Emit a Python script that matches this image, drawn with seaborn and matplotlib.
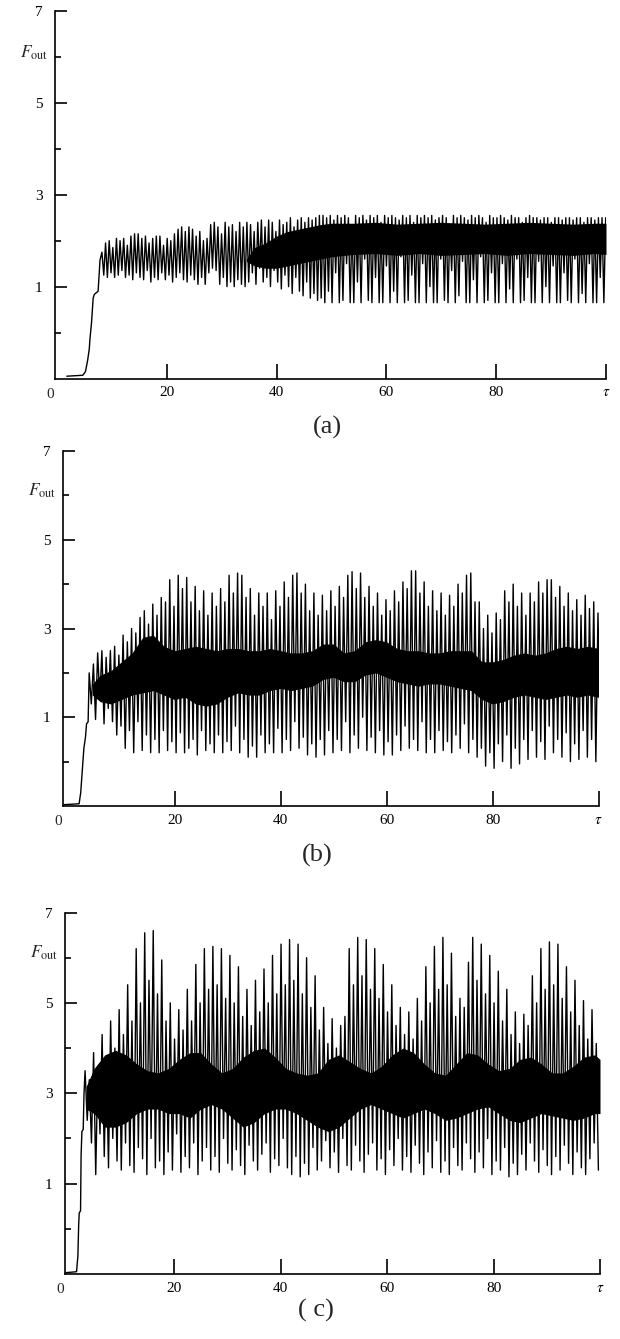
import numpy as np
import pandas as pd
import matplotlib
matplotlib.use("Agg")
import matplotlib.pyplot as plt
import seaborn as sns

sns.set_theme(style="ticks")
plt.rcParams["font.family"] = ["Liberation Serif", "DejaVu Serif"]
plt.rcParams["mathtext.fontset"] = "stix"

# ---------------- data ----------------
y_major = [1, 3, 5, 7]
y_minor = [0, 2, 4, 6]
x_ticks = [20, 40, 60, 80, 100]
x_labels = ["20", "40", "60", "80", r"$\tau$"]
captions = ["(a)", "(b)", "( c)"]

# ----- panel (a) -----
ramp_tau_a = [1.8, 4.7, 5.2, 5.6, 5.9, 6.0, 6.3, 6.6, 6.8, 7.5, 7.85]
ramp_f_a = [-0.95, -0.93, -0.85, -0.6, -0.35, -0.16, 0.21, 0.75, 0.83, 0.9, 1.58]
osc_t0_a, osc_dt_a = 8.2, 0.66
peak_a = [1.75, 1.95, 2.0, 1.85, 2.05, 2.0, 2.05, 1.9, 2.1, 2.15,
          2.15, 2.05, 2.1, 1.95, 2.05, 2.1, 2.1, 1.9, 2.05, 2.0,
          2.15, 2.25, 2.3, 2.2, 2.3, 2.25, 2.1, 2.2, 2.0, 2.05,
          2.35, 2.4, 2.3, 2.15, 2.4, 2.3, 2.35, 2.2, 2.4, 2.3,
          2.4,
          2.35, 2.2, 2.4, 2.45, 2.3, 2.45, 2.4, 2.2, 2.45, 2.35,
          2.4, 2.5, 2.3, 2.45, 2.5, 2.4, 2.5, 2.45, 2.5, 2.55,
          2.55, 2.5, 2.55, 2.45, 2.55, 2.5, 2.55, 2.5, 2.35, 2.55,
          2.5, 2.55, 2.45, 2.55, 2.5, 2.55, 2.4, 2.55, 2.5, 2.55,
          2.5, 2.45, 2.55, 2.5, 2.55, 2.4, 2.55, 2.5, 2.55, 2.5,
          2.55, 2.45, 2.5, 2.55, 2.5, 2.35, 2.55, 2.5, 2.55, 2.5,
          2.45, 2.55, 2.5, 2.55, 2.5, 2.4, 2.55, 2.5, 2.5, 2.55,
          2.5, 2.45, 2.55, 2.5, 2.5, 2.4, 2.5, 2.55, 2.5, 2.5,
          2.45, 2.5, 2.5, 2.4, 2.5, 2.5, 2.45, 2.5, 2.5, 2.45,
          2.5, 2.5, 2.4, 2.5, 2.5, 2.45, 2.5, 2.5, 2.5]
trough_a = [1.25, 1.2, 1.3, 1.2, 1.25, 1.35, 1.2, 1.25, 1.15, 1.3,
            1.2, 1.15, 1.35, 1.1, 1.2, 1.15, 1.3, 1.15, 1.25, 1.1,
            1.2, 1.3, 1.15, 1.1, 1.25, 1.15, 1.05, 1.2, 1.05, 1.3,
            1.4, 1.35, 1.05, 1.2, 1.0, 1.1, 1.0, 1.15, 1.05, 1.0,
            1.1,
            1.3, 1.05, 1.4, 1.1, 1.2, 1.0, 1.35, 1.1, 0.95, 1.25,
            1.0, 0.85, 1.2, 0.9, 0.8, 1.1, 0.75, 0.85, 0.7, 0.75,
            0.65, 0.9, 0.65, 1.3, 0.65, 0.7, 1.5, 0.65, 0.65, 1.1,
            0.65, 1.6, 0.7, 0.65, 1.2, 0.65, 0.65, 1.45, 0.65, 0.9,
            0.65, 1.65, 0.65, 0.7, 1.25, 0.65, 0.65, 1.5, 0.65, 1.0,
            0.65, 0.65, 1.6, 0.7, 0.65, 1.35, 0.65, 0.8, 1.55, 0.65,
            0.65, 1.15, 0.65, 1.65, 0.65, 0.7, 1.3, 0.65, 0.65, 1.5,
            0.65, 0.95, 0.65, 1.6, 0.65, 0.7, 1.2, 0.65, 0.65, 1.55,
            0.65, 1.0, 0.65, 1.45, 0.65, 0.65, 1.3, 0.7, 0.65, 1.6,
            0.65, 0.85, 0.65, 1.5, 0.65, 0.65, 1.2, 0.65, 1.55]
band_tau_a = [34.5, 36, 38, 40, 42, 44, 46, 48, 50, 54, 58, 62, 66, 70, 74, 78, 82, 86, 90, 94, 98, 100]
band_lo_a = [1.55, 1.45, 1.4, 1.4, 1.45, 1.5, 1.55, 1.6, 1.65, 1.7, 1.72, 1.68, 1.72, 1.68, 1.7, 1.72, 1.68, 1.72, 1.7, 1.68, 1.72, 1.7]
band_hi_a = [1.6, 1.85, 1.95, 2.1, 2.2, 2.25, 2.3, 2.35, 2.38, 2.38, 2.4, 2.36, 2.38, 2.4, 2.38, 2.36, 2.38, 2.4, 2.38, 2.36, 2.38, 2.38]

# ----- panel (b) -----
ramp_tau_b = [-0.9, 2.0, 2.3, 2.6, 2.9, 3.2, 3.4, 3.7]
ramp_f_b = [-0.97, -0.95, -0.7, -0.2, 0.3, 0.55, 0.85, 0.9]
osc_t0_b, osc_dt_b = 3.9, 0.8
peak_b = [2.0, 2.2, 2.45, 2.5, 2.35, 2.5, 2.6, 2.4, 2.85, 2.7,
          3.0, 2.9, 3.25, 3.4, 3.1, 3.55, 3.3, 3.7, 3.6, 4.1,
          3.5, 4.2, 3.9, 4.15, 3.6, 3.95, 3.4, 3.85, 3.3, 3.8,
          3.5, 3.9, 3.6, 4.2, 3.8, 4.25, 4.2, 3.7, 3.9, 3.3,
          3.8, 3.5, 3.8, 3.2, 3.85, 3.5, 4.05, 3.7, 4.2, 4.25,
          3.8, 4.0, 3.4, 3.8, 3.3, 3.75, 3.4, 3.85, 3.5, 3.95,
          3.7, 4.2, 4.28, 3.9, 4.25, 3.7, 3.95, 3.5, 3.8, 3.3,
          3.65, 3.4, 3.85, 3.6, 4.05, 3.9, 4.3, 4.3, 3.8, 4.05,
          3.5, 3.85, 3.4, 3.8, 3.3, 3.75, 3.5, 4.0, 3.8, 4.2,
          4.25, 3.6, 3.6, 3.0, 3.3, 2.9, 3.35, 3.2, 3.85, 3.6,
          4.0, 3.5, 3.8, 3.3, 3.8, 3.6, 4.05, 3.8, 4.1, 4.1,
          3.7, 3.95, 3.5, 3.8, 3.4, 3.65, 3.3, 3.75, 3.45, 3.6,
          3.35]
trough_b = [1.3, 0.95, 1.4, 0.85, 1.2, 0.9, 0.6, 0.8, 0.3, 0.7,
            0.2, 0.9, 0.25, 0.6, 0.2, 0.5, 0.2, 0.7, 0.25, 0.45,
            0.2, 0.65, 0.2, 0.3, 0.5, 0.15, 0.7, 0.25, 0.4, 0.2,
            0.6, 0.2, 0.45, 0.25, 0.8, 0.2, 0.5, 0.1, 0.35, 0.1,
            0.6, 0.2, 0.4, 0.2, 0.75, 0.2, 0.5, 0.25, 0.9, 0.3,
            0.55, 0.15, 0.4, 0.1, 0.5, 0.15, 0.7, 0.2, 0.5, 0.25,
            0.9, 0.2, 0.6, 0.3, 1.0, 0.25, 0.55, 0.2, 0.7, 0.15,
            0.45, 0.15, 0.6, 0.25, 0.8, 0.3, 0.5, 0.25, 0.9, 0.2,
            0.5, 0.2, 0.7, 0.25, 0.45, 0.2, 0.6, 0.3, 0.85, 0.2,
            0.5, 0.1, 0.3, -0.1, 0.2, -0.15, 0.4, 0.0, 0.6, -0.15,
            0.3, -0.05, 0.5, 0.05, 0.7, 0.1, 0.45, 0.05, 0.8, 0.2,
            0.5, 0.1, 0.65, 0.0, 0.4, 0.05, 0.7, 0.1, 0.5, 0.0,
            0.9]
band_tau_b = [4.5, 6, 8, 10, 12, 14, 16, 18, 20, 22, 24, 26, 28, 30, 32, 34, 36, 38, 40, 42,
              44, 46, 48, 50, 52, 54, 56, 58, 60, 62, 64, 66, 68, 70, 72, 74, 76, 78, 80, 82,
              84, 86, 88, 90, 92, 94, 96, 98, 100]
band_lo_b = [1.5, 1.35, 1.3, 1.4, 1.5, 1.55, 1.6, 1.5, 1.4, 1.45, 1.3, 1.25, 1.3, 1.45, 1.55, 1.5, 1.5, 1.6, 1.65, 1.6,
             1.65, 1.7, 1.85, 1.9, 1.8, 1.8, 1.95, 2.0, 1.9, 1.8, 1.75, 1.7, 1.75, 1.75, 1.7, 1.65, 1.6, 1.4, 1.3, 1.35,
             1.45, 1.5, 1.45, 1.4, 1.45, 1.5, 1.45, 1.5, 1.45]
band_hi_b = [1.75, 1.95, 2.05, 2.25, 2.45, 2.8, 2.85, 2.6, 2.5, 2.55, 2.6, 2.55, 2.5, 2.55, 2.55, 2.5, 2.5, 2.55, 2.5, 2.45,
             2.45, 2.5, 2.65, 2.65, 2.45, 2.5, 2.7, 2.75, 2.7, 2.55, 2.5, 2.5, 2.45, 2.45, 2.5, 2.5, 2.5, 2.25, 2.25, 2.3,
             2.4, 2.45, 2.4, 2.45, 2.55, 2.6, 2.55, 2.6, 2.55]

# ----- panel (c) -----
ramp_tau_c = [-0.3, 1.7, 1.95, 2.1, 2.2, 2.45, 2.55, 2.7, 2.95, 3.1]
ramp_f_c = [-0.97, -0.95, -0.6, 0.1, 0.35, 0.4, 1.6, 2.15, 2.2, 3.0]
osc_t0_c, osc_dt_c = 3.3, 0.8
peak_c = [3.5, 3.3, 3.9, 3.6, 4.3, 3.8, 4.6, 4.0, 4.85, 4.3,
          5.4, 4.6, 6.2, 5.0, 6.55, 5.5, 6.6, 5.2, 5.95, 4.6,
          5.0, 4.2, 4.85, 4.4, 5.3, 4.6, 5.85, 5.0, 6.2, 5.3,
          6.25, 5.4, 6.2, 5.1, 6.05, 5.0, 5.8, 4.7, 5.3, 4.5,
          5.5, 4.8, 5.75, 5.0, 6.05, 5.2, 6.3, 5.4, 6.4, 5.5,
          6.3, 5.2, 6.0, 4.9, 5.6, 4.4, 4.9, 4.1, 4.65, 4.0,
          4.5, 4.7, 6.2, 5.4, 6.45, 5.6, 6.4, 5.3, 6.2, 5.1,
          5.85, 4.8, 5.4, 4.5, 4.9, 4.3, 4.8, 4.2, 5.1, 4.6,
          5.8, 5.0, 6.25, 5.3, 6.45, 5.4, 6.1, 4.7, 5.1, 4.9,
          5.9, 6.45, 5.5, 6.3, 5.2, 6.05, 5.0, 5.7, 4.6, 5.3,
          4.3, 4.8, 4.1, 4.75, 4.5, 5.6, 5.0, 6.2, 5.3, 6.35,
          5.4, 6.3, 5.1, 5.8, 4.8, 5.5, 4.5, 5.05, 4.2, 4.85,
          4.1]
trough_c = [2.4, 1.9, 1.2, 2.1, 1.6, 1.35, 2.0, 1.5, 1.3, 1.9,
            1.4, 1.25, 1.8, 1.55, 1.2, 2.0, 1.35, 1.5, 1.2, 1.7,
            1.3, 2.1, 1.25, 1.6, 1.35, 1.9, 1.2, 1.5, 1.8, 1.3,
            1.6, 1.25, 2.0, 1.45, 1.3, 1.75, 1.4, 1.2, 1.85, 1.5,
            1.3, 1.65, 1.9, 1.25, 1.55, 1.4, 2.0, 1.35, 1.2, 1.6,
            1.15, 1.45, 1.2, 1.8, 1.3, 1.5, 1.95, 1.35, 1.7, 1.25,
            2.0, 1.4, 1.3, 1.85, 1.5, 1.25, 1.65, 1.9, 1.3, 1.55,
            1.2, 1.75, 1.4, 2.0, 1.3, 1.6, 1.25, 1.85, 1.45, 1.2,
            1.7, 1.35, 1.95, 1.25, 1.5, 1.2, 1.8, 1.4, 1.3, 1.9,
            1.55, 1.25, 1.7, 1.35, 2.0, 1.2, 1.5, 1.3, 1.8, 1.15,
            1.45, 1.2, 1.65, 1.3, 1.9, 1.5, 1.25, 1.75, 1.4, 1.2,
            1.6, 1.3, 1.85, 1.45, 1.2, 1.7, 1.35, 1.2, 1.55, 1.9,
            1.3]
band_tau_c = [3.5, 5, 7, 9, 11, 13, 15, 17, 19, 21, 23, 25, 27, 29, 31, 33, 35, 37, 39, 41,
              43, 45, 47, 49, 51, 53, 55, 57, 59, 61, 63, 65, 67, 69, 71, 73, 75, 77, 79, 81,
              83, 85, 87, 89, 91, 93, 95, 97, 99, 100]
band_lo_c = [2.65, 2.55, 2.25, 2.25, 2.35, 2.55, 2.65, 2.65, 2.55, 2.55, 2.45, 2.65, 2.75, 2.65, 2.45, 2.25, 2.35, 2.55, 2.65, 2.65,
             2.55, 2.4, 2.25, 2.15, 2.25, 2.45, 2.65, 2.75, 2.65, 2.55, 2.45, 2.55, 2.65, 2.55, 2.4, 2.45, 2.55, 2.65, 2.7, 2.55,
             2.4, 2.35, 2.45, 2.55, 2.5, 2.45, 2.4, 2.45, 2.55, 2.55]
band_hi_c = [3.15, 3.55, 3.85, 3.95, 3.85, 3.65, 3.5, 3.45, 3.55, 3.75, 3.9, 3.9, 3.65, 3.45, 3.55, 3.8, 3.95, 4.0, 3.8, 3.55,
             3.45, 3.4, 3.45, 3.75, 3.85, 3.7, 3.55, 3.45, 3.6, 3.85, 4.0, 3.9, 3.65, 3.45, 3.4, 3.65, 3.9, 3.85, 3.65, 3.5,
             3.55, 3.75, 3.8, 3.65, 3.45, 3.45, 3.6, 3.8, 3.85, 3.75]


def build_series(ramp_t, ramp_f, t0, dt, peaks, troughs):
    n = min(len(peaks), len(troughs))
    t = list(ramp_t)
    f = list(ramp_f)
    for i in range(n):
        t += [t0 + dt * i, t0 + dt * i + dt / 2.0]
        f += [peaks[i], troughs[i]]
    return pd.DataFrame({"tau": t, "F": f})


panels = [
    dict(df=build_series(ramp_tau_a, ramp_f_a, osc_t0_a, osc_dt_a, peak_a, trough_a),
         band=(band_tau_a, band_lo_a, band_hi_a),
         box=(55, 606, 11, 378.5), xmin=-0.35, cap=(327, 427)),
    dict(df=build_series(ramp_tau_b, ramp_f_b, osc_t0_b, osc_dt_b, peak_b, trough_b),
         band=(band_tau_b, band_lo_b, band_hi_b),
         box=(63, 598.5, 451, 806), xmin=-1.04, cap=(317, 855)),
    dict(df=build_series(ramp_tau_c, ramp_f_c, osc_t0_c, osc_dt_c, peak_c, trough_c),
         band=(band_tau_c, band_lo_c, band_hi_c),
         box=(65, 600, 912.5, 1274), xmin=-0.47, cap=(316, 1310)),
]

W, H = 620, 1339
fig = plt.figure(figsize=(W / 100, H / 100), dpi=100)

for p, cap in zip(panels, captions):
    l, r, top, bot = p["box"]
    ax = fig.add_axes([l / W, 1 - bot / H, (r - l) / W, (bot - top) / H])
    ax.set_facecolor("white")
    bt, blo, bhi = p["band"]
    ax.fill_between(bt, blo, bhi, color="black", linewidth=0)
    sns.lineplot(data=p["df"], x="tau", y="F", sort=False, estimator=None,
                 color="black", linewidth=1.0, ax=ax)
    ax.set_xlim(p["xmin"], 100)
    ax.set_ylim(-1, 7)
    ax.set_xlabel("")
    ax.set_ylabel("")
    for s in ["top", "right"]:
        ax.spines[s].set_visible(False)
    for s in ["left", "bottom"]:
        ax.spines[s].set_linewidth(1.2)
        ax.spines[s].set_color("black")
    ax.set_yticks(y_major)
    ax.set_yticklabels([str(v) for v in y_major])
    ax.set_yticks(y_minor, minor=True)
    ax.set_xticks(x_ticks)
    ax.set_xticklabels(x_labels)
    ax.tick_params(axis="y", which="major", direction="in", length=8.5, width=1.2,
                   pad=9, labelsize=11, colors="black")
    ax.tick_params(axis="y", which="minor", direction="in", length=4.5, width=1.2, colors="black")
    ax.tick_params(axis="x", which="major", direction="in", length=11, width=1.2,
                   pad=5.5, labelsize=11, colors="black")
    ax.tick_params(axis="x", which="minor", bottom=False)
    ax.annotate("0", xy=(0, 0), xycoords="axes fraction", xytext=(-3.8, -11.5),
                textcoords="offset points", ha="center", va="center", fontsize=11)
    ax.annotate(r"$F_{\mathrm{out}}$", xy=(0, 6.1), xycoords=ax.get_yaxis_transform(),
                xytext=(-5, 0), textcoords="offset points", ha="right", va="center",
                fontsize=12.5)
    fig.text(p["cap"][0] / W, 1 - p["cap"][1] / H, cap, ha="center", va="center",
             fontsize=19)

fig.savefig("out.png", dpi=100, facecolor="white")
